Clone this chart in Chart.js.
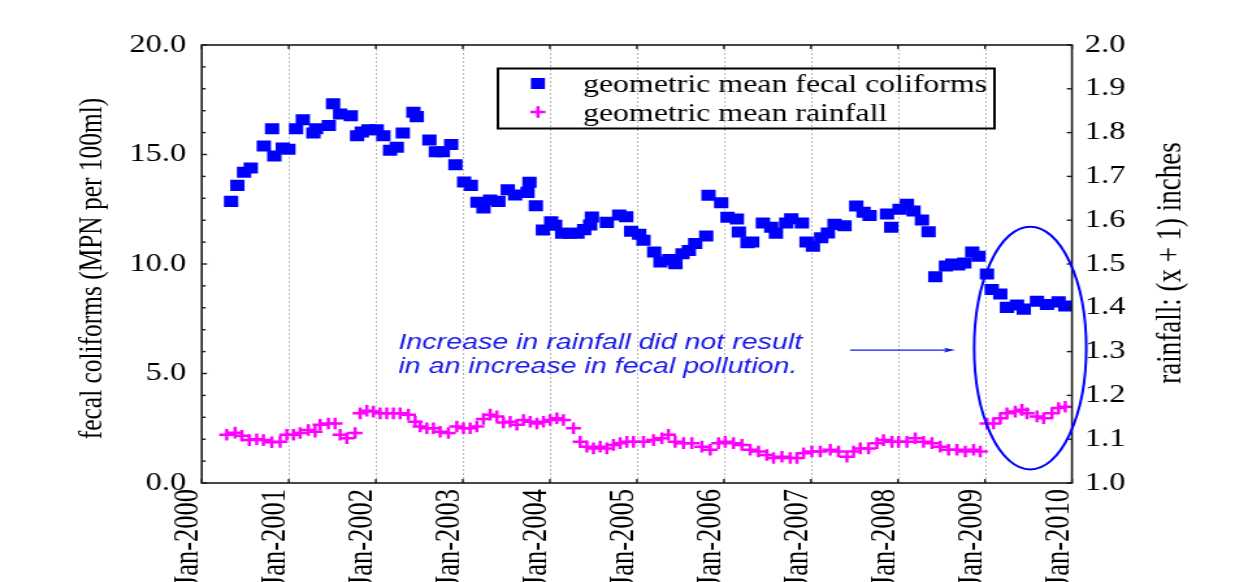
<!DOCTYPE html>
<html><head><meta charset="utf-8">
<script src="https://cdn.jsdelivr.net/npm/chart.js@4"></script>
<style>
html,body{margin:0;padding:0;background:#fff;overflow:hidden;width:1253px;height:582px}
#c{position:absolute;left:0;top:0;transform:scaleX(1.3);transform-origin:0 0}
</style></head><body>
<canvas id="c" width="964" height="582"></canvas>
<script>
// ---- data ----
const xTickYears = [2000,2001,2002,2003,2004,2005,2006,2007,2008,2009,2010];
const fecalYears = [2000.337,2000.409,2000.486,2000.563,2000.713,2000.808,2000.834,2000.931,2000.995,2001.084,2001.161,2001.283,2001.314,2001.460,2001.509,2001.590,2001.713,2001.785,2001.839,2001.915,2002.011,2002.087,2002.164,2002.241,2002.310,2002.432,2002.471,2002.616,2002.690,2002.770,2002.866,2002.915,2003.015,2003.092,2003.168,2003.237,2003.314,2003.409,2003.517,2003.601,2003.743,2003.766,2003.839,2003.920,2004.015,2004.061,2004.141,2004.230,2004.317,2004.394,2004.463,2004.483,2004.655,2004.797,2004.877,2004.934,2005.026,2005.076,2005.199,2005.271,2005.371,2005.444,2005.524,2005.598,2005.670,2005.797,2005.823,2005.969,2006.041,2006.149,2006.172,2006.271,2006.325,2006.448,2006.544,2006.598,2006.716,2006.774,2006.897,2006.949,2007.023,2007.118,2007.195,2007.271,2007.386,2007.521,2007.605,2007.674,2007.874,2007.923,2008.018,2008.103,2008.179,2008.276,2008.352,2008.429,2008.552,2008.624,2008.693,2008.762,2008.854,2008.926,2009.023,2009.078,2009.176,2009.253,2009.368,2009.446,2009.598,2009.713,2009.846,2009.923];
const fecalValues = [12.86,13.59,14.19,14.38,15.39,16.18,14.93,15.30,15.24,16.18,16.59,15.98,16.18,16.32,17.32,16.85,16.77,15.86,16.03,16.13,16.13,15.86,15.19,15.33,15.98,16.93,16.73,15.66,15.13,15.13,15.46,14.53,13.74,13.59,12.82,12.56,12.92,12.86,13.39,13.15,13.27,13.73,12.66,11.55,11.93,11.77,11.40,11.40,11.40,11.57,11.78,12.15,11.90,12.24,12.16,11.50,11.36,11.08,10.55,10.09,10.21,10.01,10.47,10.62,10.94,11.28,13.14,12.80,12.13,12.05,11.46,10.97,11.00,11.87,11.68,11.40,11.87,12.07,11.87,11.00,10.81,11.20,11.42,11.81,11.75,12.65,12.36,12.21,12.28,11.68,12.50,12.73,12.42,12.01,11.47,9.42,9.91,10.00,9.95,10.05,10.55,10.35,9.54,8.84,8.63,8.02,8.13,7.94,8.30,8.15,8.27,8.08];
const rainYears = [2000.287,2000.383,2000.460,2000.547,2000.632,2000.708,2000.805,2000.900,2000.977,2001.053,2001.130,2001.225,2001.302,2001.360,2001.455,2001.532,2001.590,2001.667,2001.762,2001.820,2001.897,2001.972,2002.049,2002.126,2002.202,2002.279,2002.375,2002.452,2002.509,2002.586,2002.662,2002.739,2002.834,2002.931,2003.007,2003.084,2003.161,2003.237,2003.314,2003.391,2003.467,2003.544,2003.621,2003.697,2003.774,2003.851,2003.926,2004.003,2004.080,2004.156,2004.271,2004.348,2004.425,2004.501,2004.578,2004.655,2004.731,2004.808,2004.885,2004.961,2005.076,2005.191,2005.287,2005.363,2005.440,2005.536,2005.632,2005.747,2005.843,2005.938,2006.015,2006.110,2006.207,2006.302,2006.398,2006.494,2006.570,2006.667,2006.762,2006.839,2006.915,2007.011,2007.107,2007.222,2007.317,2007.414,2007.490,2007.567,2007.662,2007.759,2007.834,2007.931,2008.007,2008.103,2008.199,2008.294,2008.391,2008.486,2008.582,2008.678,2008.774,2008.869,2008.946,2009.023,2009.099,2009.176,2009.253,2009.348,2009.425,2009.483,2009.598,2009.674,2009.770,2009.846,2009.923];
const rainValues = [1.110,1.115,1.108,1.098,1.100,1.098,1.093,1.094,1.110,1.110,1.114,1.121,1.117,1.133,1.136,1.136,1.110,1.102,1.114,1.159,1.165,1.163,1.159,1.159,1.159,1.159,1.156,1.140,1.129,1.125,1.125,1.117,1.114,1.129,1.125,1.125,1.129,1.146,1.156,1.152,1.138,1.140,1.133,1.144,1.140,1.136,1.140,1.144,1.148,1.144,1.125,1.094,1.083,1.079,1.083,1.079,1.087,1.091,1.094,1.094,1.094,1.098,1.102,1.110,1.094,1.091,1.091,1.083,1.076,1.091,1.094,1.091,1.087,1.076,1.072,1.064,1.057,1.060,1.057,1.057,1.068,1.072,1.072,1.076,1.072,1.060,1.072,1.079,1.079,1.091,1.098,1.094,1.094,1.094,1.102,1.094,1.091,1.083,1.076,1.076,1.072,1.076,1.072,1.136,1.136,1.148,1.159,1.163,1.167,1.159,1.152,1.148,1.159,1.171,1.174];
const legendLabels = ['geometric mean fecal coliforms', 'geometric mean rainfall'];
const leftAxisTitle = 'fecal coliforms (MPN per 100ml)';
const rightAxisTitle = 'rainfall: (x + 1) inches';
const noteLines = ['Increase in rainfall did not result', 'in an increase in fecal pollution.'];

const BLUE = 'rgb(0,0,255)';
const MAGENTA = 'rgb(255,0,255)';
const SERIF = '"Liberation Serif", "Times New Roman", serif';

// annotation anchors in data units (x: years, y: left-axis units)
const note = {x: 2002.26, y1: 6.12, y2: 5.02};
const arrow = {x0: 2007.45, x1: 2008.66, y: 6.07};
const ring = {cx: 2009.52, cy: 6.16, rx: 0.644, ry: 5.54};

const fecalData = fecalYears.map((x, i) => ({x, y: fecalValues[i]}));
const rainData = rainYears.map((x, i) => ({x, y: rainValues[i]}));

function line(ctx, x0, y0, x1, y1) { ctx.beginPath(); ctx.moveTo(x0, y0); ctx.lineTo(x1, y1); ctx.stroke(); }

const decor = {
  id: 'decor',
  beforeDatasetsDraw(chart) {
    const {ctx, chartArea: a, scales: {x}} = chart;
    ctx.save();
    ctx.strokeStyle = '#b8b8b8'; ctx.lineWidth = 1; ctx.setLineDash([2, 2]);
    xTickYears.slice(1, -1).forEach(yr => {
      const px = Math.round(x.getPixelForValue(yr)) + 0.5;
      line(ctx, px, a.top, px, a.bottom);
    });
    ctx.restore();
  },
  afterDraw(chart) {
    const {ctx, chartArea: a, scales: {x, y, y2}} = chart;
    ctx.save();
    // frame
    ctx.strokeStyle = '#1a1a1a'; ctx.lineWidth = 1.6;
    ctx.strokeRect(a.left, a.top, a.right - a.left, a.bottom - a.top);
    // inward ticks
    ctx.lineWidth = 1.4;
    xTickYears.forEach(yr => {
      const px = x.getPixelForValue(yr);
      line(ctx, px, a.bottom, px, a.bottom - 4);
      line(ctx, px, a.top, px, a.top + 4);
    });
    for (let v = 0; v <= 20; v++) {
      const py = y.getPixelForValue(v);
      line(ctx, a.left, py, a.left + (v % 5 === 0 ? 4 : 3), py);
    }
    for (let k = 0; k <= 10; k++) {
      const py = y2.getPixelForValue(1 + k / 10);
      line(ctx, a.right, py, a.right - 4, py);
    }
    // axis titles
    ctx.fillStyle = '#000';
    ctx.textAlign = 'center'; ctx.textBaseline = 'middle';
    ctx.font = '25.4px ' + SERIF;
    ctx.save(); ctx.translate(71.5, 268.5); ctx.rotate(-Math.PI / 2); ctx.fillText(leftAxisTitle, 0, 0); ctx.restore();
    ctx.font = '27px ' + SERIF;
    ctx.save(); ctx.translate(901, 263); ctx.rotate(-Math.PI / 2); ctx.fillText(rightAxisTitle, 0, 0); ctx.restore();
    // legend
    ctx.lineWidth = 2; ctx.strokeStyle = '#000';
    ctx.strokeRect(383, 68.5, 382, 60);
    ctx.fillStyle = BLUE;
    ctx.fillRect(413.8 - 5.4, 83.5 - 5.5, 10.8, 11);
    ctx.strokeStyle = MAGENTA; ctx.lineWidth = 2.5;
    line(ctx, 413.8 - 5.8, 112, 413.8 + 5.8, 112);
    line(ctx, 413.8, 112 - 5.8, 413.8, 112 + 5.8);
    ctx.fillStyle = '#000';
    ctx.font = '24.5px ' + SERIF;
    ctx.textAlign = 'left'; ctx.textBaseline = 'alphabetic';
    ctx.fillText(legendLabels[0], 448.5, 92);
    ctx.fillText(legendLabels[1], 448.5, 121);
    // note text
    ctx.fillStyle = 'rgb(25,25,235)';
    ctx.font = 'italic 22px "Liberation Sans", Arial, sans-serif';
    ctx.fillText(noteLines[0], x.getPixelForValue(note.x), y.getPixelForValue(note.y1));
    ctx.fillText(noteLines[1], x.getPixelForValue(note.x), y.getPixelForValue(note.y2));
    // arrow
    const ax0 = x.getPixelForValue(arrow.x0), ax1 = x.getPixelForValue(arrow.x1), ay = y.getPixelForValue(arrow.y);
    ctx.strokeStyle = 'rgb(25,25,235)'; ctx.lineWidth = 1.3;
    line(ctx, ax0, ay, ax1 - 4, ay);
    ctx.beginPath(); ctx.moveTo(ax1, ay); ctx.lineTo(ax1 - 9, ay - 2.4); ctx.lineTo(ax1 - 7, ay); ctx.lineTo(ax1 - 9, ay + 2.4); ctx.closePath();
    ctx.fillStyle = 'rgb(25,25,235)'; ctx.fill();
    // ellipse
    const ecx = x.getPixelForValue(ring.cx), ecy = y.getPixelForValue(ring.cy);
    const erx = x.getPixelForValue(ring.cx + ring.rx) - ecx;
    const ery = ecy - y.getPixelForValue(ring.cy + ring.ry);
    ctx.strokeStyle = BLUE; ctx.lineWidth = 2;
    ctx.beginPath(); ctx.ellipse(ecx, ecy, erx, ery, 0, 0, Math.PI * 2); ctx.stroke();
    ctx.restore();
  }
};

new Chart(document.getElementById('c'), {
  type: 'scatter',
  data: {
    datasets: [
      {label: legendLabels[0], data: fecalData, yAxisID: 'y', pointStyle: 'rect', pointRadius: 7.8,
       backgroundColor: BLUE, borderColor: BLUE, pointBorderWidth: 0},
      {label: legendLabels[1], data: rainData, yAxisID: 'y2', pointStyle: 'cross', pointRadius: 5.8,
       borderColor: MAGENTA, backgroundColor: MAGENTA, pointBorderWidth: 2.5}
    ]
  },
  options: {
    responsive: false, animation: false, devicePixelRatio: 1, events: [],
    layout: {padding: {top: 45, left: 0, right: 0, bottom: 0}},
    plugins: {legend: {display: false}, tooltip: {enabled: false}, title: {display: false}},
    scales: {
      x: {
        type: 'linear', position: 'bottom', min: 2000, max: 2010,
        grid: {display: false, drawTicks: false}, border: {display: false},
        afterBuildTicks: s => { s.ticks = xTickYears.map(v => ({value: v})); },
        ticks: {autoSkip: false, minRotation: 90, maxRotation: 90, padding: 6, labelOffset: -10, color: '#000',
                font: {family: SERIF, size: 26.5}, callback: v => 'Jan-' + v},
        afterFit: s => { s.height = 99; }
      },
      y: {
        position: 'left', min: 0, max: 20,
        grid: {display: false, drawTicks: false}, border: {display: false},
        ticks: {stepSize: 5, padding: 12, color: '#000', font: {family: SERIF, size: 25},
                callback: v => Number(v).toFixed(1)},
        afterFit: s => { s.width = 155.2; }
      },
      y2: {
        position: 'right', min: 1, max: 2,
        grid: {display: false, drawTicks: false}, border: {display: false},
        ticks: {stepSize: 0.1, padding: 10, color: '#000', font: {family: SERIF, size: 25},
                callback: v => Number(v).toFixed(1)},
        afterFit: s => { s.width = 139.4; }
      }
    }
  },
  plugins: [decor]
});
</script>
</body></html>
